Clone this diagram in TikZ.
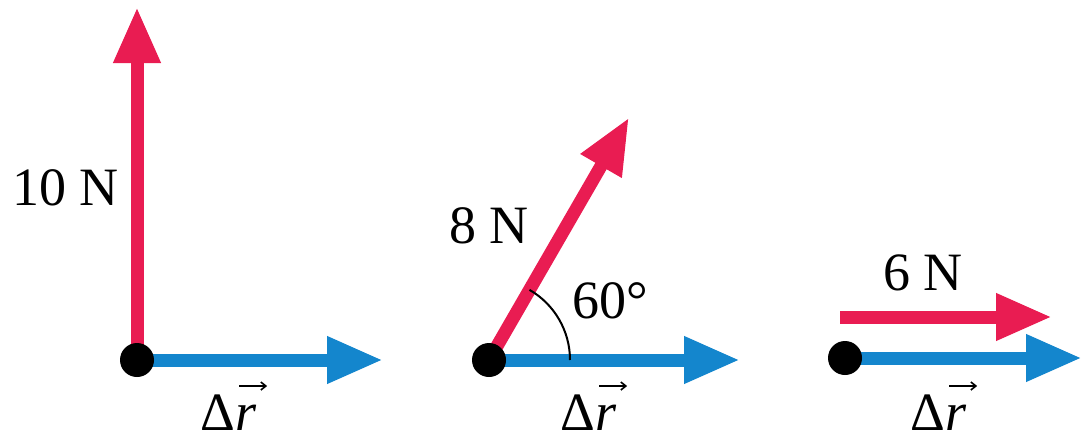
\documentclass[tikz,border=0pt]{standalone}
\usepackage{fontspec}
\setmainfont{Liberation Serif}
\usetikzlibrary{arrows.meta}
\definecolor{fred}{RGB}{233,28,82}
\definecolor{dblue}{RGB}{20,134,205}
\tikzset{
  vec/.style={line width=13pt,-{Triangle[length=56pt,width=44pt]}},
  force/.style={vec,draw=fred},
  disp/.style={vec,draw=dblue},
  dot/.style={circle,fill=black,inner sep=0pt,minimum size=34pt},
  lbl/.style={font=\fontsize{54}{60}\selectfont,inner sep=0pt},
  accent/.style={line width=1.6pt,-{Straight Barb[length=5pt,width=8pt]}},
}
\begin{document}
\begin{tikzpicture}[x=1pt,y=-1pt]
\useasboundingbox (0,0) rectangle (1082,432);
% panel 1
\coordinate (o1) at (137,360);
\coordinate (f1) at (137,7);
\coordinate (r1) at (383,360);
\draw[force] (o1) -- (f1);
\draw[disp] (o1) -- (r1);
\node[dot] (d1) at (o1) {};
\node[lbl,anchor=base west] (l1) at (12,205) {10 N};
\node[lbl,anchor=base west] (dl1) at (200,430) {Δ};
\node[lbl,anchor=base west] (rl1) at (dl1.base east) {\textit{r}};
\draw[accent] ([shift={(4pt,44pt)}]rl1.base west) -- ([shift={(32pt,44pt)}]rl1.base west);
% panel 2
\coordinate (o2) at (489,360);
\coordinate (f2) at (629,117.5);
\coordinate (r2) at (740,360);
\draw[disp] (o2) -- (r2);
\draw[force] (o2) -- (f2);
\draw[line width=2pt] (570,360) arc[start angle=0,end angle=-60,radius=81];
\node[dot] (d2) at (o2) {};
\node[lbl,anchor=base west] (l2) at (449,243) {8 N};
\node[lbl,anchor=base west] (a2) at (572,318) {60°};
\node[lbl,anchor=base west] (dl2) at (560,430) {Δ};
\node[lbl,anchor=base west] (rl2) at (dl2.base east) {\textit{r}};
\draw[accent] ([shift={(4pt,44pt)}]rl2.base west) -- ([shift={(32pt,44pt)}]rl2.base west);
% panel 3
\coordinate (o3) at (845,358);
\coordinate (r3) at (1082,358);
\coordinate (s3) at (840,317);
\coordinate (f3) at (1052,317);
\draw[disp] (o3) -- (r3);
\draw[force] (s3) -- (f3);
\node[dot] (d3) at (o3) {};
\node[lbl,anchor=base west] (l3) at (883,290) {6 N};
\node[lbl,anchor=base west] (dl3) at (910,430) {Δ};
\node[lbl,anchor=base west] (rl3) at (dl3.base east) {\textit{r}};
\draw[accent] ([shift={(4pt,44pt)}]rl3.base west) -- ([shift={(32pt,44pt)}]rl3.base west);
\end{tikzpicture}
\end{document}
